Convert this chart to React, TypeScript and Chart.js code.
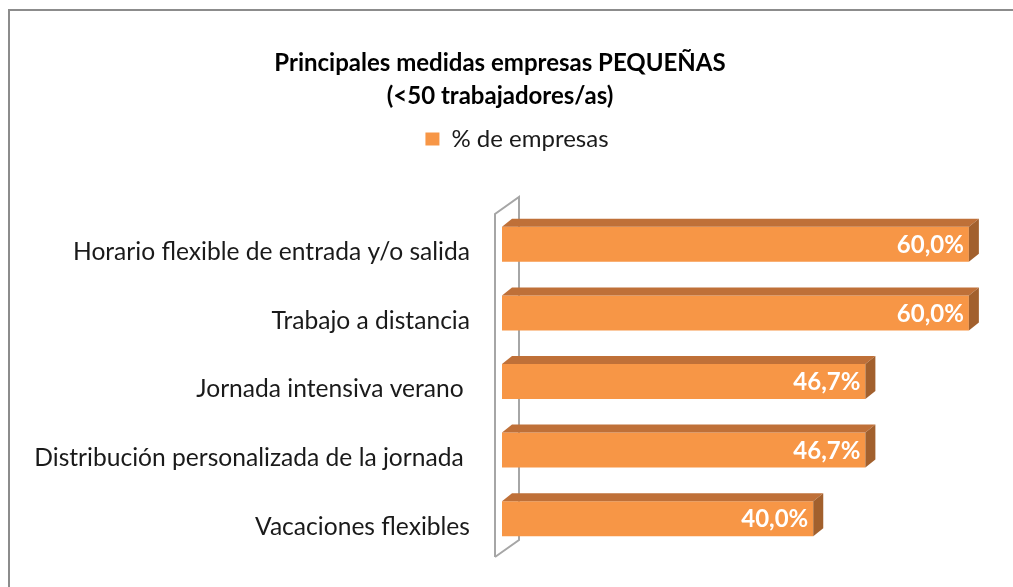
import React, { useEffect, useRef } from "react";
import { Chart, registerables } from "chart.js";

Chart.register(...registerables);

const categories = [
  "Horario flexible de entrada y/o salida",
  "Trabajo a distancia",
  "Jornada intensiva verano ",
  "Distribución personalizada de la jornada ",
  "Vacaciones flexibles",
];
const values = [60.0, 60.0, 46.7, 46.7, 40.0];
const seriesName = "% de empresas";
const titleLines = ["Principales medidas empresas PEQUEÑAS", "(<50 trabajadores/as)"];

const FRONT = "#F79646";
const TOP = "#BF7038";
const SIDE = "#A2602D";
const FONT = "Lato, 'Open Sans', sans-serif";

const fmt = (v: number) => v.toFixed(1).replace(".", ",") + "%";

const threeDPlugin = {
  id: "threeD",
  afterLayout(chart: any) {
    if (chart.legend) {
      chart.legend.left += 34;
    }
  },
  beforeDatasetsDraw(chart: any) {
    const ctx = chart.ctx;
    const a = chart.chartArea;
    const fx = a.left - 7;
    const bx = a.left + 17;
    const topF = a.top + 4;
    const topB = a.top - 13;
    const botF = a.bottom + 4;
    const botB = a.bottom - 13;
    ctx.save();
    ctx.strokeStyle = "#A6A6A6";
    ctx.lineWidth = 2;
    ctx.beginPath();
    ctx.moveTo(fx, botF);
    ctx.lineTo(fx, topF);
    ctx.lineTo(bx, topB);
    ctx.lineTo(bx, botB);
    ctx.lineTo(fx, botF);
    ctx.stroke();
    ctx.restore();
  },
  afterDatasetsDraw(chart: any) {
    const ctx = chart.ctx;
    const meta = chart.getDatasetMeta(0);
    const dx = 10;
    const dy = 8;
    ctx.save();
    meta.data.forEach((bar: any, i: number) => {
      const p = bar.getProps(["x", "y", "base", "height"], true);
      const left = p.base;
      const right = p.x;
      const top = p.y - p.height / 2;
      const bottom = p.y + p.height / 2;
      ctx.fillStyle = TOP;
      ctx.beginPath();
      ctx.moveTo(left, top);
      ctx.lineTo(left + dx, top - dy);
      ctx.lineTo(right + dx, top - dy);
      ctx.lineTo(right, top);
      ctx.closePath();
      ctx.fill();
      ctx.fillStyle = SIDE;
      ctx.beginPath();
      ctx.moveTo(right, top);
      ctx.lineTo(right + dx, top - dy);
      ctx.lineTo(right + dx, bottom - dy);
      ctx.lineTo(right, bottom);
      ctx.closePath();
      ctx.fill();
      ctx.fillStyle = "#FFFFFF";
      ctx.font = `bold 24px ${FONT}`;
      ctx.textAlign = "right";
      ctx.textBaseline = "middle";
      ctx.fillText(fmt(values[i]), right - 5, p.y + 1);
    });
    const yScale = chart.scales.y;
    ctx.fillStyle = "#1A1A1A";
    ctx.font = `24.6px ${FONT}`;
    ctx.textAlign = "right";
    ctx.textBaseline = "middle";
    categories.forEach((c, i) => {
      ctx.fillText(c, chart.chartArea.left - 32, yScale.getPixelForValue(i) + 8);
    });
    ctx.restore();
  },
};

export default function App() {
  const ref = useRef<HTMLCanvasElement | null>(null);
  useEffect(() => {
    if (!ref.current) return;
    const chart = new Chart(ref.current, {
      type: "bar",
      data: {
        labels: categories,
        datasets: [
          {
            label: seriesName,
            data: values,
            backgroundColor: FRONT,
            borderWidth: 0,
            categoryPercentage: 1,
            barPercentage: 0.51,
          },
        ],
      },
      options: {
        indexAxis: "y",
        animation: false,
        responsive: false,
        layout: { padding: { left: 0, right: 13, top: 0, bottom: 34 } },
        scales: {
          x: {
            display: true,
            position: "top",
            min: 0,
            max: 64,
            ticks: { display: false },
            grid: { display: false },
            border: { display: false },
            afterFit: (axis: any) => {
              axis.height = 49;
            },
          },
          y: {
            display: true,
            ticks: { display: false },
            grid: { display: false },
            border: { display: false },
            afterFit: (axis: any) => {
              axis.width = 502;
            },
          },
        },
        plugins: {
          title: {
            display: true,
            text: titleLines,
            color: "#000",
            font: { family: FONT, size: 24, weight: "bold", lineHeight: 1.375 },
            padding: { top: 47, bottom: 4 },
          },
          legend: {
            display: true,
            labels: {
              color: "#1A1A1A",
              font: { family: FONT, size: 24 },
              boxWidth: 14,
              boxHeight: 13,
              padding: 10,
            },
          },
          tooltip: { enabled: false },
        },
      },
      plugins: [threeDPlugin],
    });
    return () => chart.destroy();
  }, []);
  return (
    <div>
      <div
        style={{
          position: "fixed",
          left: 8,
          top: 9,
          width: 1100,
          height: 700,
          borderLeft: "2px solid #8C8C8C",
          borderTop: "2px solid #8C8C8C",
          boxSizing: "border-box",
        }}
      />
      <canvas
        ref={ref}
        width={1013}
        height={587}
        style={{ position: "fixed", left: 0, top: 0, width: 1013, height: 587 }}
      />
    </div>
  );
}
